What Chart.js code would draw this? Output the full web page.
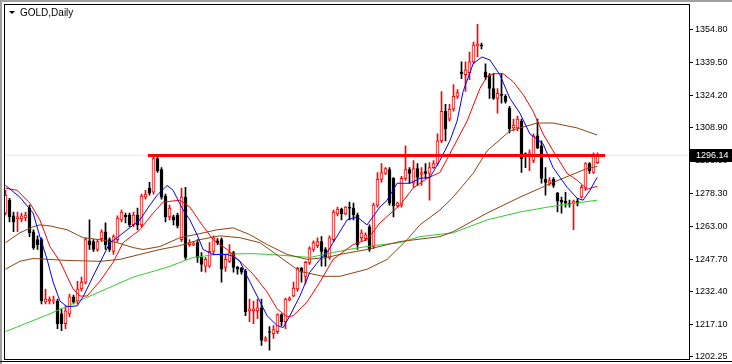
<!DOCTYPE html>
<html>
<head>
<meta charset="utf-8">
<title>GOLD,Daily</title>
<script src="https://cdn.jsdelivr.net/npm/chart.js@4.4.1/dist/chart.umd.min.js"></script>
<style>
  html, body { margin: 0; padding: 0; background: #fff; }
  canvas { display: block; }
</style>
</head>
<body>
<canvas id="goldChart" width="732" height="364"></canvas>
<script>
// GOLD daily candles, oldest first
const candleOpen = [
  1269.2, 1275.2, 1267.9, 1266.5, 1266.5, 1266.9, 1271.5, 1260.5, 1256.8, 1256.8,
  1227.8, 1228.2, 1228.2, 1228.2, 1222.2, 1217.6, 1222.2, 1230.1, 1228.2, 1233.8,
  1237.0, 1256.3, 1255.9, 1252.2, 1257.3, 1260.5, 1256.8, 1251.3, 1256.8, 1266.0,
  1268.3, 1268.3, 1263.7, 1268.3, 1263.7, 1276.6, 1280.8, 1278.9, 1294.6, 1289.5,
  1277.1, 1267.4, 1267.4, 1268.3, 1256.8, 1276.6, 1254.5, 1254.5, 1255.4, 1248.5,
  1244.4, 1244.4, 1251.3, 1256.3, 1256.8, 1243.9, 1246.7, 1250.8, 1243.9, 1243.4,
  1242.0, 1223.6, 1223.6, 1223.6, 1225.0, 1209.8, 1213.9, 1213.0, 1213.9, 1221.8,
  1218.5, 1228.7, 1230.5, 1233.8, 1243.4, 1239.7, 1246.2, 1252.2, 1254.0, 1255.9,
  1252.2, 1248.5, 1256.8, 1268.8, 1271.1, 1268.8, 1272.0, 1271.5, 1268.3, 1257.7,
  1257.3, 1262.8, 1253.6, 1272.9, 1284.9, 1287.7, 1289.5, 1285.4, 1272.5, 1272.9,
  1285.4, 1289.5, 1283.1, 1290.0, 1287.2, 1288.6, 1287.7, 1290.4, 1292.3, 1302.9,
  1316.7, 1313.0, 1317.6, 1323.6, 1335.1, 1333.7, 1334.7, 1339.7, 1347.1, 1347.6,
  1335.1, 1333.3, 1327.3, 1322.7, 1324.5, 1323.6, 1318.1, 1308.9, 1308.9, 1312.1,
  1296.9, 1296.0, 1293.7, 1305.2, 1300.6, 1284.9, 1283.1, 1284.9, 1278.5, 1275.2,
  1274.8, 1273.8, 1273.8, 1274.8, 1276.6, 1280.8, 1292.3, 1288.1, 1292.7
];
const candleHigh = [
  1279.8, 1276.1, 1269.7, 1269.7, 1269.2, 1269.7, 1272.9, 1261.4, 1258.6, 1257.7,
  1233.8, 1230.1, 1230.5, 1229.1, 1224.5, 1225.9, 1231.4, 1231.0, 1237.4, 1239.3,
  1257.7, 1266.0, 1256.8, 1256.8, 1261.4, 1264.6, 1257.7, 1259.1, 1267.9, 1270.6,
  1269.2, 1269.2, 1269.7, 1271.5, 1278.0, 1279.8, 1283.5, 1295.5, 1295.5, 1290.4,
  1278.0, 1272.9, 1268.3, 1269.2, 1280.8, 1281.2, 1256.8, 1255.9, 1256.8, 1250.8,
  1248.5, 1255.4, 1258.6, 1257.3, 1257.7, 1249.9, 1254.5, 1251.3, 1244.4, 1243.9,
  1243.0, 1229.1, 1228.2, 1229.1, 1229.1, 1211.6, 1216.2, 1216.7, 1222.2, 1222.2,
  1229.6, 1230.1, 1237.0, 1243.9, 1243.9, 1246.7, 1253.6, 1256.3, 1257.7, 1258.2,
  1253.1, 1258.6, 1270.6, 1272.0, 1271.5, 1272.2, 1274.3, 1273.8, 1269.2, 1261.4,
  1260.0, 1263.7, 1273.8, 1288.1, 1292.3, 1290.4, 1290.4, 1285.8, 1274.3, 1286.3,
  1300.6, 1290.4, 1293.7, 1292.3, 1290.4, 1292.3, 1292.7, 1293.7, 1306.1, 1325.9,
  1319.9, 1319.9, 1329.1, 1326.8, 1339.7, 1339.7, 1344.3, 1349.0, 1357.2, 1348.5,
  1338.8, 1334.2, 1334.2, 1327.3, 1334.2, 1324.5, 1319.0, 1313.0, 1314.4, 1313.0,
  1297.3, 1298.7, 1306.1, 1313.0, 1302.9, 1290.4, 1285.8, 1285.8, 1278.9, 1276.6,
  1278.9, 1275.2, 1275.2, 1276.1, 1282.1, 1292.7, 1292.7, 1297.3, 1297.3
];
const candleLow = [
  1268.3, 1265.1, 1260.5, 1260.5, 1265.1, 1265.5, 1258.2, 1252.2, 1252.2, 1226.8,
  1226.8, 1226.8, 1226.8, 1215.3, 1214.4, 1215.3, 1220.8, 1226.8, 1226.8, 1232.8,
  1236.1, 1252.2, 1251.3, 1251.3, 1255.9, 1252.2, 1251.3, 1249.9, 1255.9, 1265.1,
  1264.6, 1262.8, 1262.8, 1261.4, 1262.8, 1275.7, 1277.5, 1278.0, 1288.1, 1275.7,
  1265.1, 1266.0, 1263.7, 1262.3, 1255.9, 1247.6, 1253.6, 1254.0, 1246.2, 1242.0,
  1241.6, 1243.9, 1250.3, 1254.5, 1237.0, 1242.0, 1246.2, 1241.6, 1240.7, 1240.7,
  1221.3, 1218.5, 1217.6, 1219.9, 1207.5, 1209.3, 1205.2, 1210.7, 1213.0, 1216.7,
  1215.3, 1228.2, 1230.1, 1232.8, 1237.0, 1236.1, 1245.3, 1251.3, 1253.1, 1244.4,
  1244.4, 1247.6, 1255.9, 1267.9, 1266.0, 1268.3, 1266.0, 1266.0, 1252.2, 1256.3,
  1256.3, 1251.3, 1252.6, 1272.0, 1283.5, 1287.2, 1272.9, 1267.4, 1272.0, 1272.0,
  1284.4, 1283.1, 1281.2, 1282.1, 1282.1, 1285.4, 1275.2, 1290.0, 1291.4, 1302.0,
  1302.9, 1312.1, 1316.7, 1322.7, 1331.9, 1325.9, 1331.4, 1338.8, 1342.0, 1345.7,
  1331.4, 1322.7, 1322.2, 1315.8, 1320.4, 1320.4, 1306.6, 1307.5, 1307.5, 1288.1,
  1290.4, 1289.0, 1292.7, 1299.2, 1283.1, 1277.5, 1282.1, 1281.2, 1269.7, 1269.2,
  1272.0, 1272.0, 1261.4, 1272.5, 1276.1, 1279.8, 1287.7, 1287.7, 1292.3
];
const candleClose = [
  1277.5, 1267.4, 1265.1, 1267.4, 1267.9, 1268.3, 1260.0, 1253.1, 1254.5, 1228.2,
  1229.1, 1229.1, 1228.7, 1217.6, 1217.6, 1223.6, 1230.1, 1227.8, 1233.8, 1237.0,
  1256.8, 1254.5, 1252.2, 1255.9, 1260.5, 1254.5, 1252.2, 1258.2, 1266.9, 1269.7,
  1267.4, 1263.7, 1268.3, 1263.7, 1277.1, 1278.0, 1278.5, 1294.6, 1289.0, 1276.6,
  1267.4, 1271.5, 1266.0, 1263.2, 1276.6, 1248.5, 1255.4, 1254.9, 1248.5, 1245.3,
  1247.6, 1251.3, 1257.7, 1255.4, 1243.0, 1247.6, 1250.8, 1243.9, 1243.0, 1241.6,
  1223.2, 1224.5, 1224.5, 1225.0, 1209.8, 1210.7, 1213.5, 1214.9, 1221.8, 1218.5,
  1229.1, 1229.6, 1234.2, 1243.4, 1241.6, 1246.2, 1252.6, 1255.4, 1255.9, 1251.3,
  1248.5, 1257.7, 1269.7, 1271.1, 1268.8, 1272.0, 1271.5, 1268.3, 1254.5, 1260.0,
  1259.1, 1252.2, 1272.9, 1284.9, 1288.1, 1290.0, 1273.8, 1272.5, 1273.8, 1285.4,
  1289.5, 1287.7, 1290.0, 1285.8, 1288.1, 1287.7, 1290.4, 1292.3, 1302.9, 1316.7,
  1308.4, 1317.6, 1323.6, 1325.4, 1334.2, 1336.0, 1339.7, 1347.6, 1348.0, 1347.1,
  1332.8, 1327.3, 1322.7, 1325.0, 1324.1, 1321.3, 1308.4, 1310.2, 1313.0, 1294.6,
  1296.0, 1297.3, 1305.2, 1299.6, 1285.4, 1283.5, 1284.4, 1282.1, 1274.8, 1274.3,
  1273.8, 1273.4, 1274.8, 1273.8, 1281.2, 1292.3, 1289.0, 1296.0, 1296.14
];

// moving averages, read at sample bars
const maBlueBars = [0, 3.6, 6.9, 8.6, 10.4, 11.9, 13.6, 15.4, 17.9, 19.4, 21.9, 24.4, 26.1, 27.9, 30.4, 33.6,
  36.1, 37.9, 40.4, 41.9, 44.4, 46.1, 47.9, 49.4, 51.9, 55.4, 56.9, 58.6, 60.4, 62.9, 65.4, 67.9, 69.4,
  71.1, 73.6, 76.1, 78.6, 80.4, 81.9, 85.4, 87.9, 90.4, 93.6, 95.4, 97.9, 101.1, 103.6, 106.1, 108.6,
  111.1, 112.9, 114.4, 116.9, 119.1, 121.1, 123.6, 126.1, 128.6, 131.1, 134.4, 136.9, 140.4, 142.9,
  144.4, 146.1, 147.9];
const maBlueValues = [1282.1, 1276.6, 1269.2, 1258.2, 1247.6, 1237.0, 1228.2, 1225.5, 1225.9, 1230.1, 1239.7,
  1249.0, 1255.4, 1257.7, 1261.4, 1266.0, 1272.9, 1277.5, 1282.1, 1279.8, 1270.6, 1266.0, 1259.1, 1252.2,
  1249.9, 1249.9, 1249.0, 1246.7, 1239.7, 1230.5, 1221.3, 1216.7, 1215.8, 1221.3, 1230.5, 1241.6, 1247.6,
  1250.8, 1255.4, 1266.0, 1267.4, 1263.7, 1272.0, 1275.2, 1283.1, 1283.1, 1285.4, 1285.8, 1293.7, 1302.9,
  1312.1, 1325.9, 1338.8, 1342.0, 1340.6, 1333.7, 1322.7, 1315.8, 1306.1, 1301.5, 1290.4, 1281.2, 1276.1,
  1275.2, 1279.8, 1285.8];

const maRedBars = [0, 2.9, 6.1, 8.6, 11.1, 13.6, 16.9, 18.6, 20.4, 23.6, 26.9, 29.4, 33.6, 36.9, 39.4, 43.6,
  46.1, 48.6, 51.9, 55.4, 58.6, 61.9, 65.4, 67.9, 70.4, 71.9, 75.4, 78.6, 81.9, 86.9, 90.4, 93.6, 98.6,
  101.9, 105.4, 108.6, 111.1, 115.4, 118.6, 120.4, 121.9, 124.4, 126.9, 129.4, 131.9, 134.4, 136.9, 140.4,
  142.9, 145.4, 147.9];
const maRedValues = [1280.8, 1279.8, 1273.8, 1266.0, 1253.6, 1246.7, 1233.8, 1230.5, 1230.5, 1237.4, 1246.2,
  1255.4, 1261.4, 1269.2, 1274.3, 1275.2, 1272.0, 1265.1, 1256.8, 1252.2, 1246.7, 1240.7, 1232.4, 1224.5,
  1220.8, 1221.3, 1227.8, 1237.0, 1247.6, 1254.5, 1256.8, 1264.6, 1272.9, 1280.8, 1285.4, 1288.1, 1296.9,
  1312.1, 1327.3, 1332.8, 1334.2, 1334.2, 1330.5, 1324.5, 1316.7, 1306.1, 1298.2, 1287.7, 1284.5, 1280.3,
  1281.7];

const maBrownABars = [0, 3.6, 6.9, 8.6, 11.1, 15.4, 19.4, 23.6, 27.9, 31.9, 34.4, 38.6, 43.6, 48.6, 52.9,
  56.9, 61.1, 65.4, 70.4, 75.4, 80.4, 83.6, 90.4, 98.6, 108.6, 111.9, 120.4, 128.6, 136.9, 145.4, 147.9];
const maBrownAValues = [1255.4, 1260.0, 1262.8, 1263.7, 1263.2, 1261.4, 1257.7, 1256.8, 1255.4, 1253.1,
  1252.2, 1253.6, 1257.7, 1259.6, 1261.4, 1262.3, 1259.1, 1254.5, 1249.9, 1247.6, 1248.5, 1249.9, 1252.2,
  1255.9, 1258.2, 1260.5, 1269.2, 1276.6, 1283.5, 1290.0, 1290.9];

const maBrownBBars = [0, 3.6, 6.9, 15.4, 23.6, 28.6, 33.6, 38.6, 43.6, 48.6, 53.6, 58.6, 63.6, 69.4, 73.6,
  79.4, 83.6, 90.4, 95.4, 100.4, 103.6, 108.6, 111.9, 116.9, 120.4, 126.1, 132.9, 136.9, 142.9, 147.9];
const maBrownBValues = [1243.0, 1246.7, 1248.0, 1247.1, 1246.7, 1247.6, 1249.9, 1252.2, 1254.0, 1256.8,
  1258.6, 1257.7, 1255.4, 1247.6, 1242.0, 1239.7, 1239.7, 1243.0, 1247.6, 1256.8, 1263.7, 1270.6, 1276.6,
  1287.7, 1298.2, 1307.5, 1311.2, 1311.2, 1308.9, 1305.6];

const maGreenBars = [0, 11.1, 19.4, 31.9, 40.4, 46.9, 52.9, 61.1, 66.1, 76.1, 81.9, 86.9, 91.9, 98.6, 103.6,
  111.9, 120.4, 128.6, 136.9, 147.9];
const maGreenValues = [1213.9, 1222.2, 1229.1, 1239.3, 1243.9, 1248.5, 1249.9, 1250.3, 1249.9, 1248.5,
  1250.8, 1252.6, 1254.0, 1255.4, 1258.2, 1260.0, 1266.0, 1269.7, 1272.4, 1275.2];

// price axis
const yTicks = [1202.25, 1217.10, 1232.40, 1247.70, 1263.00, 1278.30, 1293.60, 1308.90, 1324.20, 1339.50, 1354.80];
const yMin = 1202.25;
const yMax = 1365.12;

// drawn level line and bid price
const levelPrice = 1296.0;
const levelFrom = 35.6;
const levelTo = 149.9;
const lastPrice = 1296.14;

const isUp = candleOpen.map((o, i) => candleClose[i] >= o);
const bodyData = candleOpen.map((o, i) => ({ x: i, y: [o, candleClose[i]] }));
const wickData = candleOpen.map((o, i) => ({ x: i, y: [candleLow[i], candleHigh[i]] }));
const toPoints = (bars, vals) => bars.map((b, i) => ({ x: b, y: vals[i] }));

function maLine(bars, vals, color, order) {
  return {
    type: 'line',
    data: toPoints(bars, vals),
    borderColor: color,
    borderWidth: 1,
    pointRadius: 0,
    tension: 0,
    order: order
  };
}

const mt4Frame = {
  id: 'mt4Frame',
  afterDraw(chart) {
    const c = chart.ctx;
    const a = chart.chartArea;
    const r = Math.round(a.right);
    c.save();
    // window edges
    c.fillStyle = '#a0a0a0';
    c.fillRect(0, 0, 732, 2);
    c.fillRect(0, 0, 2, 364);
    c.fillStyle = '#000';
    c.fillRect(4, 4, r - 4 + 1, 1);
    c.fillRect(4, 4, 1, 356);
    c.fillRect(r, 4, 1, 356);
    c.fillRect(4, 359, r - 4 + 1, 1);
    c.fillRect(0, 361, 732, 1);

    // symbol caption
    c.beginPath();
    c.moveTo(9, 11);
    c.lineTo(15, 11);
    c.lineTo(12, 14);
    c.closePath();
    c.fill();
    c.font = '10px "Liberation Sans", Arial, sans-serif';
    c.textBaseline = 'alphabetic';
    c.textAlign = 'left';
    c.fillText('GOLD,Daily', 20, 16);

    // bid price label
    const py = Math.round(chart.scales.y.getPixelForValue(lastPrice));
    c.fillStyle = '#000';
    c.fillRect(r + 1, py - 6, 732 - r - 1, 13);
    c.fillStyle = '#fff';
    c.font = '9px "Liberation Sans", Arial, sans-serif';
    c.textBaseline = 'middle';
    c.fillText(lastPrice.toFixed(2), r + 7, py + 0.5);
    c.restore();
  }
};

const ctx = document.getElementById('goldChart').getContext('2d');
new Chart(ctx, {
  type: 'bar',
  data: {
    datasets: [
      {
        type: 'line',
        data: [{ x: levelFrom, y: levelPrice }, { x: levelTo, y: levelPrice }],
        borderColor: '#ff0000',
        borderWidth: 3,
        pointRadius: 0,
        order: 0
      },
      maLine(maBlueBars, maBlueValues, '#0000ff', 1),
      maLine(maRedBars, maRedValues, '#ff0000', 2),
      maLine(maBrownABars, maBrownAValues, '#8b4513', 3),
      maLine(maBrownBBars, maBrownBValues, '#8b4513', 4),
      maLine(maGreenBars, maGreenValues, '#32cd32', 5),
      {
        data: bodyData,
        backgroundColor: isUp.map(u => u ? '#ffffff' : '#000000'),
        borderColor: isUp.map(u => u ? '#ff0000' : '#000000'),
        borderWidth: 1,
        borderSkipped: false,
        barThickness: 3,
        minBarLength: 1,
        grouped: false,
        order: 6
      },
      {
        data: wickData,
        backgroundColor: isUp.map(u => u ? '#ff0000' : '#000000'),
        borderWidth: 0,
        barThickness: 1,
        grouped: false,
        order: 7
      },
      {
        type: 'line',
        data: [{ x: -1, y: lastPrice }, { x: 171, y: lastPrice }],
        borderColor: '#e2efe2',
        borderWidth: 1,
        pointRadius: 0,
        order: 8
      }
    ]
  },
  options: {
    responsive: false,
    animation: false,
    events: [],
    layout: { padding: { left: 5, right: 0, top: 5, bottom: 7 } },
    plugins: {
      legend: { display: false },
      tooltip: { enabled: false }
    },
    scales: {
      x: {
        type: 'linear',
        display: false,
        offset: false,
        min: -0.125,
        max: 170.875
      },
      y: {
        position: 'right',
        min: yMin,
        max: yMax,
        afterFit: scale => { scale.width = 43; },
        afterBuildTicks: scale => { scale.ticks = yTicks.map(v => ({ value: v })); },
        ticks: {
          autoSkip: false,
          color: '#000',
          padding: 2,
          font: { family: '"Liberation Sans", Arial, sans-serif', size: 9 },
          callback: v => v.toFixed(2)
        },
        grid: {
          drawOnChartArea: false,
          drawTicks: true,
          tickLength: 4,
          color: '#000'
        },
        border: { display: false }
      }
    }
  },
  plugins: [mt4Frame]
});
</script>
</body>
</html>
